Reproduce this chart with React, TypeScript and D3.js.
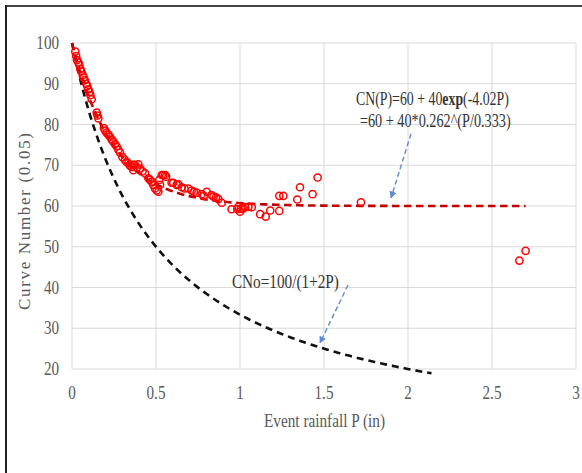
import React from 'react';
import * as d3 from 'd3';

// observed event data: rainfall P (in) and curve number at 0.05
const rainP = [
  0.02, 0.025, 0.03, 0.038, 0.044, 0.05, 0.056, 0.064, 0.07, 0.077, 0.085, 0.091, 0.097, 0.103, 0.11, 0.117,
  0.147, 0.152, 0.157, 0.19, 0.198, 0.206, 0.216, 0.226, 0.236, 0.246, 0.256, 0.266, 0.276, 0.286, 0.3, 0.315,
  0.325, 0.335, 0.345, 0.355, 0.365, 0.365, 0.375, 0.385, 0.395, 0.405, 0.42, 0.435, 0.455, 0.464, 0.474, 0.484,
  0.494, 0.504, 0.514, 0.52, 0.524, 0.534, 0.543, 0.554, 0.56, 0.593, 0.603, 0.623, 0.633, 0.653, 0.67, 0.692,
  0.712, 0.725, 0.742, 0.772, 0.785, 0.802, 0.83, 0.842, 0.857, 0.871, 0.891, 0.95, 0.984, 0.99, 1.0, 1.005,
  1.02, 1.03, 1.05, 1.07, 1.12, 1.153, 1.18, 1.234, 1.234, 1.258, 1.341, 1.357, 1.432, 1.462, 1.72, 2.663, 2.7,
];
const cnObs = [
  97.9, 96.8, 95.8, 95.2, 94.6, 93.6, 93.0, 92.1, 91.5, 90.9, 90.0, 89.4, 88.6, 88.0, 87.2, 86.2,
  82.9, 82.2, 81.5, 79.1, 78.5, 78.0, 77.5, 77.0, 76.3, 75.8, 75.2, 74.6, 73.8, 73.1, 72.0, 71.3,
  70.8, 70.5, 69.9, 69.6, 68.8, 70.1, 70.1, 69.4, 70.2, 69.2, 68.5, 68.0, 66.8, 66.4, 66.0, 65.2,
  64.3, 63.8, 63.5, 66.4, 65.2, 67.6, 67.6, 67.6, 67.2, 65.7, 65.7, 65.2, 65.3, 64.6, 64.3, 64.3,
  63.8, 63.5, 63.3, 62.9, 62.5, 63.5, 62.7, 62.3, 62.1, 61.7, 60.8, 59.2, 59.2, 59.8, 58.6, 59.3,
  59.4, 59.7, 59.8, 59.7, 58.0, 57.4, 58.9, 58.8, 62.5, 62.5, 61.6, 64.6, 62.9, 67.0, 60.9, 46.6, 49.0,
];

const xTicks = [0, 0.5, 1, 1.5, 2, 2.5, 3];
const yTicks = [20, 30, 40, 50, 60, 70, 80, 90, 100];

// model curves
const fitRange: [number, number] = [0, 2.7];
const cnoRange: [number, number] = [0, 2.14];
const fitCN = (p: number) => 60 + 40 * Math.exp(-4.02 * p);
const cnoCN = (p: number) => 100 / (1 + 2 * p);

const W = 582;
const H = 473;
const m = { left: 72, right: 6, top: 43, bottom: 104 };
const font = '"Liberation Serif", "Times New Roman", serif';

// condensed serif text, like the squeezed original
function T({ x, y, size = 18, sx = 0.84, anchor = 'start', fill = '#595959', children }: any) {
  return (
    <text
      transform={`translate(${x},${y}) scale(${sx},1)`}
      textAnchor={anchor}
      fontFamily={font}
      fontSize={size}
      fill={fill}
    >
      {children}
    </text>
  );
}

export default function App() {
  const x = d3.scaleLinear().domain([0, 3]).range([m.left, W - m.right]);
  const y = d3.scaleLinear().domain([20, 100]).range([H - m.bottom, m.top]);

  const sample = (r: [number, number], n: number) => d3.range(n + 1).map(i => r[0] + ((r[1] - r[0]) * i) / n);
  const fitPath = d3.line<number>().x(p => x(p)).y(p => y(fitCN(p)))(sample(fitRange, 120)) ?? '';
  const cnoPath = d3.line<number>().x(p => x(p)).y(p => y(cnoCN(p)))(sample(cnoRange, 120)) ?? '';

  const grid = '#d9d9d9';
  const tickColor = '#595959';
  const blue = '#5b8bd0';

  // annotation arrows in data units: [tailP, tailCN, tipP, tipCN]
  const arrows: [number, number, number, number][] = [
    [2.018, 77.7, 1.899, 62.0],
    [1.643, 40.6, 1.476, 26.4],
  ];

  return (
    <svg width={W} height={H} style={{ position: 'absolute', left: 0, top: 0, background: '#fff' }}>
      <defs>
        <marker id="ah" viewBox="0 0 10 10" refX="9" refY="5" markerWidth="5" markerHeight="5" orient="auto">
          <path d="M0,0 L10,5 L0,10 z" fill={blue} />
        </marker>
      </defs>
      <rect width={W} height={H} fill="#fff" />
      {/* frame */}
      <line x1={5} x2={W} y1={6} y2={6} stroke="#444" strokeWidth={2} />
      <line x1={6} x2={6} y1={5} y2={H} stroke="#222" strokeWidth={2} />

      {/* grid */}
      {yTicks.map(t => (
        <line key={'gy' + t} x1={x(0)} x2={x(3)} y1={y(t)} y2={y(t)} stroke={grid} strokeWidth={1} />
      ))}
      {xTicks.map(t => (
        <line key={'gx' + t} x1={x(t)} x2={x(t)} y1={y(20)} y2={y(100)} stroke={grid} strokeWidth={1} />
      ))}

      {/* tick labels */}
      {yTicks.map(t => (
        <T key={'ty' + t} x={x(0) - 13} y={y(t) + 6} anchor="end" fill={tickColor}>
          {t}
        </T>
      ))}
      {xTicks.map(t => (
        <T key={'tx' + t} x={x(t)} y={y(20) + 30} anchor="middle" fill={tickColor}>
          {t}
        </T>
      ))}

      {/* axis titles */}
      <text x={264} y={427} fontFamily={font} fontSize={18} fill={tickColor} textLength={121} lengthAdjust="spacingAndGlyphs">
        Event rainfall P (in)
      </text>
      <text
        transform={`translate(30,${(133 + 310) / 2}) rotate(-90)`}
        textAnchor="middle"
        fontFamily={font}
        fontSize={17}
        fill={tickColor}
        textLength={177}
        lengthAdjust="spacing"
      >
        Curve Number (0.05)
      </text>

      {/* model curves */}
      <path d={cnoPath} fill="none" stroke="#111" strokeWidth={2.6} strokeDasharray="7,5" />
      <path d={fitPath} fill="none" stroke="#c00000" strokeWidth={2.6} strokeDasharray="7.5,4.5" />

      {/* observations */}
      {rainP.map((p, i) => (
        <circle key={i} cx={x(p)} cy={y(cnObs[i])} r={3.6} fill="none" stroke="#ff0000" strokeWidth={1.5} />
      ))}

      {/* annotations */}
      <T x={x(1.69)} y={y(84.8)} sx={0.77} fill="#333">
        CN(P)=60 + 40<tspan fontWeight="bold">exp</tspan>(-4.02P)
      </T>
      <T x={x(1.714)} y={y(79.4)} sx={0.79} fill="#333">
        =60 + 40*0.262^(P/0.333)
      </T>
      <text x={x(0.952)} y={y(39.9)} fontFamily={font} fontSize={18} fill="#333" textLength={107} lengthAdjust="spacingAndGlyphs">
        CNo=100/(1+2P)
      </text>
      {arrows.map((a, i) => (
        <line
          key={'ar' + i}
          x1={x(a[0])}
          y1={y(a[1])}
          x2={x(a[2])}
          y2={y(a[3])}
          stroke={blue}
          strokeWidth={1.4}
          strokeDasharray="5,3"
          markerEnd="url(#ah)"
        />
      ))}
    </svg>
  );
}
